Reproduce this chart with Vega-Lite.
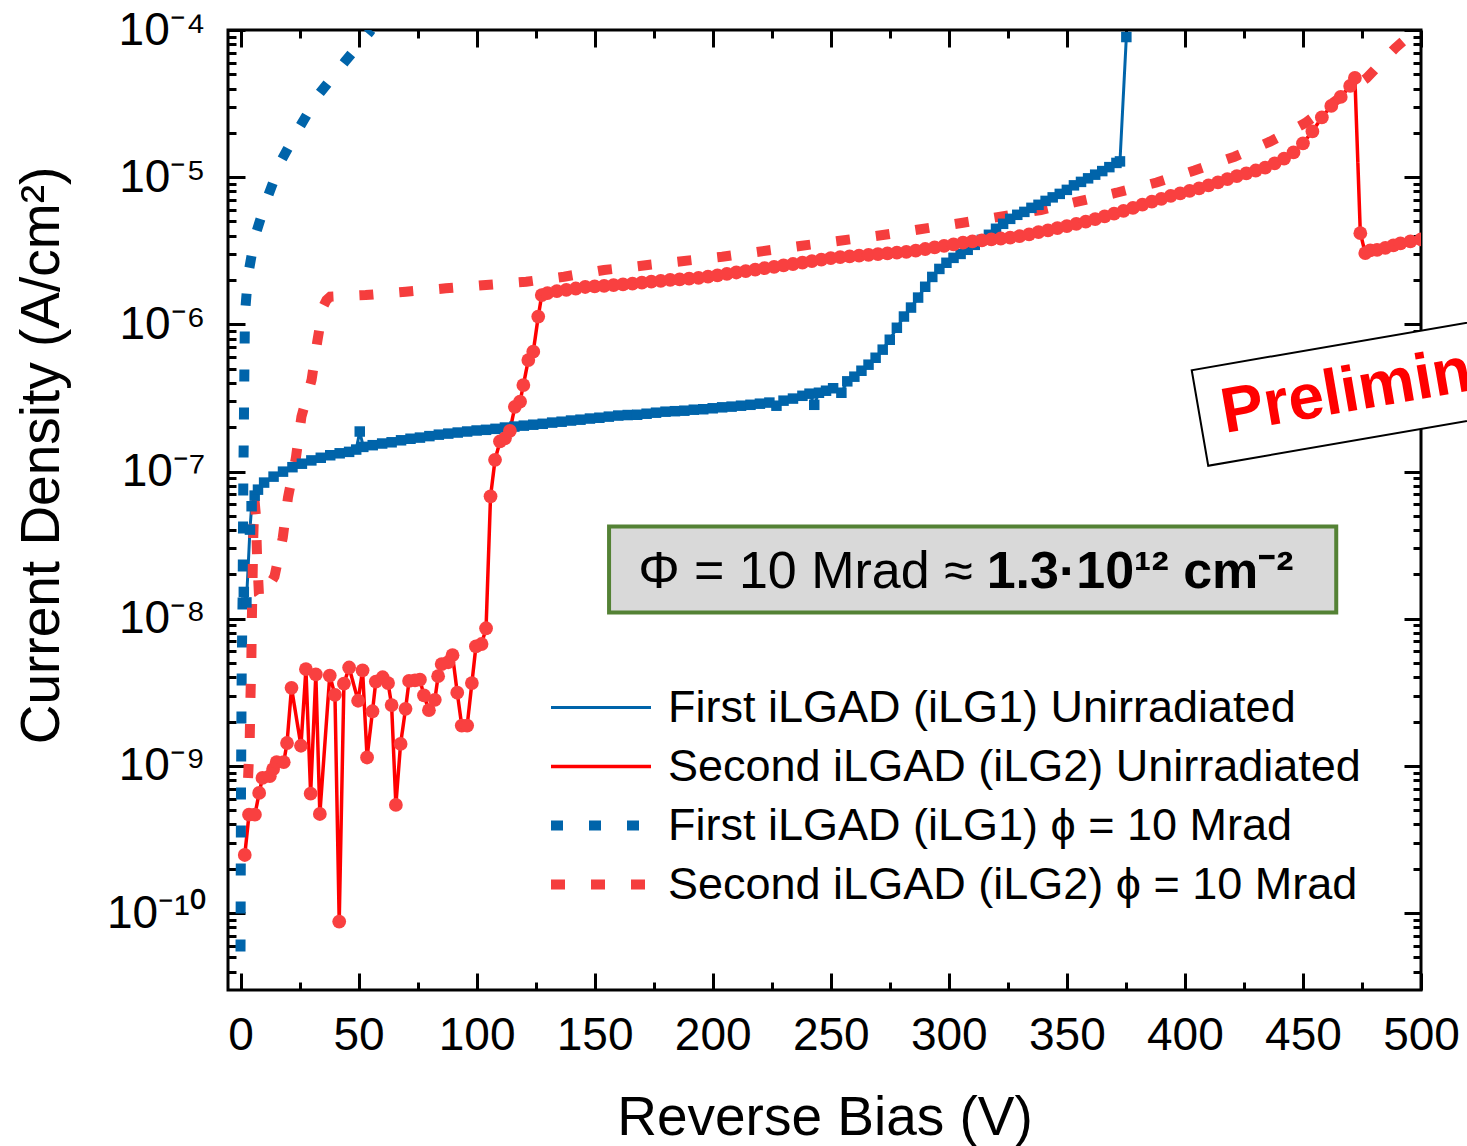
{
  "$schema": "https://vega.github.io/schema/vega-lite/v6.json",
  "width": 1193,
  "height": 960,
  "autosize": {"type": "none"},
  "padding": {"left": 228, "top": 30, "right": 46, "bottom": 156},
  "background": "white",
  "config": {
    "view": {"stroke": "black", "strokeWidth": 3},
    "font": "Liberation Sans",
    "axis": {"domain": false, "grid": false, "tickColor": "black", "labelColor": "black", "titleColor": "black", "labelFont": "Liberation Sans", "titleFont": "Liberation Sans", "titleFontWeight": "normal"}
  },
  "datasets": {
    "curves": [
      {"s":"1U","V":1.4,"J":1.52e-8},{"s":"1U","V":2.5,"J":1.29e-8},{"s":"1U","V":4.0,"J":4.03e-8},{"s":"1U","V":4.7,"J":5.81e-8},{"s":"1U","V":6,"J":6.86e-8},{"s":"1U","V":7.4,"J":7.53e-8},{"s":"1U","V":10,"J":8.41e-8},{"s":"1U","V":14,"J":9.23e-8},{"s":"1U","V":18,"J":9.98e-8},{"s":"1U","V":22,"J":1.07e-7},{"s":"1U","V":26,"J":1.13e-7},{"s":"1U","V":30,"J":1.19e-7},{"s":"1U","V":34,"J":1.24e-7},{"s":"1U","V":38,"J":1.29e-7},{"s":"1U","V":42,"J":1.33e-7},{"s":"1U","V":46,"J":1.36e-7},{"s":"1U","V":49,"J":1.41e-7},{"s":"1U","V":50.5,"J":1.87e-7},{"s":"1U","V":52,"J":1.47e-7},{"s":"1U","V":56,"J":1.51e-7},{"s":"1U","V":60,"J":1.55e-7},{"s":"1U","V":64,"J":1.58e-7},{"s":"1U","V":68,"J":1.63e-7},{"s":"1U","V":72,"J":1.67e-7},{"s":"1U","V":76,"J":1.70e-7},{"s":"1U","V":80,"J":1.74e-7},{"s":"1U","V":84,"J":1.78e-7},{"s":"1U","V":88,"J":1.81e-7},{"s":"1U","V":92,"J":1.84e-7},{"s":"1U","V":96,"J":1.87e-7},{"s":"1U","V":100,"J":1.90e-7},{"s":"1U","V":104,"J":1.92e-7},{"s":"1U","V":108,"J":1.95e-7},{"s":"1U","V":112,"J":1.99e-7},{"s":"1U","V":116,"J":2.02e-7},{"s":"1U","V":120,"J":2.05e-7},{"s":"1U","V":124,"J":2.08e-7},{"s":"1U","V":128,"J":2.11e-7},{"s":"1U","V":132,"J":2.15e-7},{"s":"1U","V":136,"J":2.18e-7},{"s":"1U","V":140,"J":2.22e-7},{"s":"1U","V":144,"J":2.25e-7},{"s":"1U","V":148,"J":2.29e-7},{"s":"1U","V":152,"J":2.32e-7},{"s":"1U","V":156,"J":2.36e-7},{"s":"1U","V":160,"J":2.40e-7},{"s":"1U","V":164,"J":2.42e-7},{"s":"1U","V":168,"J":2.43e-7},{"s":"1U","V":172,"J":2.47e-7},{"s":"1U","V":176,"J":2.51e-7},{"s":"1U","V":180,"J":2.55e-7},{"s":"1U","V":184,"J":2.57e-7},{"s":"1U","V":188,"J":2.59e-7},{"s":"1U","V":192,"J":2.63e-7},{"s":"1U","V":196,"J":2.65e-7},{"s":"1U","V":200,"J":2.69e-7},{"s":"1U","V":204,"J":2.73e-7},{"s":"1U","V":208,"J":2.76e-7},{"s":"1U","V":212,"J":2.80e-7},{"s":"1U","V":216,"J":2.84e-7},{"s":"1U","V":220,"J":2.89e-7},{"s":"1U","V":224,"J":2.94e-7},{"s":"1U","V":227,"J":2.80e-7},{"s":"1U","V":230,"J":3.03e-7},{"s":"1U","V":234,"J":3.13e-7},{"s":"1U","V":238,"J":3.27e-7},{"s":"1U","V":241,"J":3.38e-7},{"s":"1U","V":243,"J":2.84e-7},{"s":"1U","V":245,"J":3.43e-7},{"s":"1U","V":248,"J":3.54e-7},{"s":"1U","V":251,"J":3.68e-7},{"s":"1U","V":254.5,"J":3.43e-7},{"s":"1U","V":257,"J":4.10e-7},{"s":"1U","V":260,"J":4.41e-7},{"s":"1U","V":263,"J":4.84e-7},{"s":"1U","V":266,"J":5.32e-7},{"s":"1U","V":269,"J":5.93e-7},{"s":"1U","V":272,"J":6.73e-7},{"s":"1U","V":275,"J":7.86e-7},{"s":"1U","V":278,"J":9.48e-7},{"s":"1U","V":281,"J":1.13e-6},{"s":"1U","V":284,"J":1.30e-6},{"s":"1U","V":287,"J":1.52e-6},{"s":"1U","V":290,"J":1.80e-6},{"s":"1U","V":293,"J":2.10e-6},{"s":"1U","V":296,"J":2.38e-6},{"s":"1U","V":299,"J":2.62e-6},{"s":"1U","V":302,"J":2.83e-6},{"s":"1U","V":305,"J":3.01e-6},{"s":"1U","V":308,"J":3.21e-6},{"s":"1U","V":311,"J":3.47e-6},{"s":"1U","V":314,"J":3.75e-6},{"s":"1U","V":317,"J":4.06e-6},{"s":"1U","V":320,"J":4.46e-6},{"s":"1U","V":323,"J":4.82e-6},{"s":"1U","V":326,"J":5.21e-6},{"s":"1U","V":329,"J":5.55e-6},{"s":"1U","V":332,"J":5.81e-6},{"s":"1U","V":335,"J":6.19e-6},{"s":"1U","V":338,"J":6.49e-6},{"s":"1U","V":341,"J":6.90e-6},{"s":"1U","V":344,"J":7.29e-6},{"s":"1U","V":347,"J":7.70e-6},{"s":"1U","V":350,"J":8.20e-6},{"s":"1U","V":353,"J":8.80e-6},{"s":"1U","V":356,"J":9.29e-6},{"s":"1U","V":359,"J":9.82e-6},{"s":"1U","V":362,"J":1.04e-5},{"s":"1U","V":365,"J":1.10e-5},{"s":"1U","V":368,"J":1.17e-5},{"s":"1U","V":371,"J":1.25e-5},{"s":"1U","V":372.5,"J":1.28e-5},{"s":"1U","V":375.2,"J":8.96e-5},
      {"s":"2U","V":1.8,"J":2.48e-10},{"s":"2U","V":3.6,"J":4.66e-10},{"s":"2U","V":6.1,"J":4.66e-10},{"s":"2U","V":7.9,"J":6.55e-10},{"s":"2U","V":9.3,"J":8.28e-10},{"s":"2U","V":12.4,"J":8.51e-10},{"s":"2U","V":13.8,"J":9.51e-10},{"s":"2U","V":15.3,"J":1.06e-9},{"s":"2U","V":18.3,"J":1.06e-9},{"s":"2U","V":19.7,"J":1.43e-9},{"s":"2U","V":21.6,"J":3.39e-9},{"s":"2U","V":25.6,"J":1.37e-9},{"s":"2U","V":27.7,"J":4.54e-9},{"s":"2U","V":29.7,"J":6.47e-10},{"s":"2U","V":31.9,"J":4.18e-9},{"s":"2U","V":33.6,"J":4.71e-10},{"s":"2U","V":37.8,"J":4.11e-9},{"s":"2U","V":40.0,"J":3.04e-9},{"s":"2U","V":41.8,"J":8.75e-11},{"s":"2U","V":43.8,"J":3.62e-9},{"s":"2U","V":46.0,"J":4.66e-9},{"s":"2U","V":49.8,"J":2.77e-9},{"s":"2U","V":51.7,"J":4.46e-9},{"s":"2U","V":53.6,"J":1.14e-9},{"s":"2U","V":55.9,"J":2.35e-9},{"s":"2U","V":57.3,"J":3.74e-9},{"s":"2U","V":60.2,"J":4.00e-9},{"s":"2U","V":62.5,"J":3.65e-9},{"s":"2U","V":64.0,"J":2.59e-9},{"s":"2U","V":65.8,"J":5.43e-10},{"s":"2U","V":67.8,"J":1.41e-9},{"s":"2U","V":69.9,"J":2.44e-9},{"s":"2U","V":71.4,"J":3.78e-9},{"s":"2U","V":73.9,"J":3.81e-9},{"s":"2U","V":76.0,"J":3.85e-9},{"s":"2U","V":77.7,"J":3.01e-9},{"s":"2U","V":79.8,"J":2.39e-9},{"s":"2U","V":82.3,"J":2.81e-9},{"s":"2U","V":83.7,"J":4.07e-9},{"s":"2U","V":85.2,"J":4.92e-9},{"s":"2U","V":88.0,"J":5.06e-9},{"s":"2U","V":89.8,"J":5.65e-9},{"s":"2U","V":91.8,"J":3.14e-9},{"s":"2U","V":93.7,"J":1.88e-9},{"s":"2U","V":96.0,"J":1.88e-9},{"s":"2U","V":98.0,"J":3.65e-9},{"s":"2U","V":99.7,"J":6.48e-9},{"s":"2U","V":102.1,"J":6.73e-9},{"s":"2U","V":104.0,"J":8.61e-9},{"s":"2U","V":105.9,"J":6.78e-8},{"s":"2U","V":107.8,"J":1.20e-7},{"s":"2U","V":109.9,"J":1.60e-7},{"s":"2U","V":112.0,"J":1.68e-7},{"s":"2U","V":114.1,"J":1.89e-7},{"s":"2U","V":116.2,"J":2.75e-7},{"s":"2U","V":118.4,"J":2.98e-7},{"s":"2U","V":119.8,"J":3.87e-7},{"s":"2U","V":121.9,"J":5.72e-7},{"s":"2U","V":124.0,"J":6.52e-7},{"s":"2U","V":126.1,"J":1.13e-6},{"s":"2U","V":127.6,"J":1.58e-6},
      {"s":"2U","V":130,"J":1.631e-6},{"s":"2U","V":134,"J":1.683e-6},{"s":"2U","V":138,"J":1.717e-6},{"s":"2U","V":142,"J":1.752e-6},{"s":"2U","V":146,"J":1.794e-6},{"s":"2U","V":150,"J":1.811e-6},{"s":"2U","V":154,"J":1.828e-6},{"s":"2U","V":158,"J":1.845e-6},{"s":"2U","V":162,"J":1.866e-6},{"s":"2U","V":166,"J":1.892e-6},{"s":"2U","V":170,"J":1.922e-6},{"s":"2U","V":174,"J":1.953e-6},{"s":"2U","V":178,"J":1.977e-6},{"s":"2U","V":182,"J":2.002e-6},{"s":"2U","V":186,"J":2.024e-6},{"s":"2U","V":190,"J":2.046e-6},{"s":"2U","V":194,"J":2.069e-6},{"s":"2U","V":198,"J":2.108e-6},{"s":"2U","V":202,"J":2.154e-6},{"s":"2U","V":206,"J":2.202e-6},{"s":"2U","V":210,"J":2.251e-6},{"s":"2U","V":214,"J":2.301e-6},{"s":"2U","V":218,"J":2.355e-6},{"s":"2U","V":222,"J":2.407e-6},{"s":"2U","V":226,"J":2.460e-6},{"s":"2U","V":230,"J":2.519e-6},{"s":"2U","V":234,"J":2.570e-6},{"s":"2U","V":238,"J":2.631e-6},{"s":"2U","V":242,"J":2.690e-6},{"s":"2U","V":246,"J":2.754e-6},{"s":"2U","V":250,"J":2.814e-6},{"s":"2U","V":254,"J":2.863e-6},{"s":"2U","V":258,"J":2.899e-6},{"s":"2U","V":262,"J":2.931e-6},{"s":"2U","V":266,"J":2.968e-6},{"s":"2U","V":270,"J":3.005e-6},{"s":"2U","V":274,"J":3.038e-6},{"s":"2U","V":278,"J":3.071e-6},{"s":"2U","V":282,"J":3.110e-6},{"s":"2U","V":286,"J":3.174e-6},{"s":"2U","V":290,"J":3.250e-6},{"s":"2U","V":294,"J":3.332e-6},{"s":"2U","V":298,"J":3.416e-6},{"s":"2U","V":302,"J":3.498e-6},{"s":"2U","V":306,"J":3.592e-6},{"s":"2U","V":310,"J":3.666e-6},{"s":"2U","V":314,"J":3.723e-6},{"s":"2U","V":318,"J":3.782e-6},{"s":"2U","V":322,"J":3.830e-6},{"s":"2U","V":326,"J":3.884e-6},{"s":"2U","V":330,"J":3.970e-6},{"s":"2U","V":334,"J":4.090e-6},{"s":"2U","V":338,"J":4.233e-6},{"s":"2U","V":342,"J":4.354e-6},{"s":"2U","V":346,"J":4.499e-6},{"s":"2U","V":350,"J":4.648e-6},{"s":"2U","V":354,"J":4.819e-6},{"s":"2U","V":358,"J":4.987e-6},{"s":"2U","V":362,"J":5.187e-6},{"s":"2U","V":366,"J":5.410e-6},{"s":"2U","V":370,"J":5.651e-6},{"s":"2U","V":374,"J":5.903e-6},{"s":"2U","V":378,"J":6.177e-6},{"s":"2U","V":382,"J":6.516e-6},{"s":"2U","V":386,"J":6.818e-6},{"s":"2U","V":390,"J":7.123e-6},{"s":"2U","V":394,"J":7.464e-6},{"s":"2U","V":398,"J":7.762e-6},{"s":"2U","V":402,"J":8.072e-6},{"s":"2U","V":406,"J":8.395e-6},{"s":"2U","V":410,"J":8.799e-6},{"s":"2U","V":414,"J":9.220e-6},{"s":"2U","V":418,"J":9.692e-6},{"s":"2U","V":422,"J":1.017e-5},{"s":"2U","V":426,"J":1.063e-5},{"s":"2U","V":430,"J":1.110e-5},{"s":"2U","V":434,"J":1.160e-5},{"s":"2U","V":438,"J":1.241e-5},{"s":"2U","V":442,"J":1.338e-5},{"s":"2U","V":446,"J":1.474e-5},{"s":"2U","V":450,"J":1.697e-5},{"s":"2U","V":454,"J":2.046e-5},{"s":"2U","V":458,"J":2.547e-5},{"s":"2U","V":462,"J":3.048e-5},{"s":"2U","V":466,"J":3.507e-5},{"s":"2U","V":470,"J":4.167e-5},{"s":"2U","V":472,"J":4.721e-5},{"s":"2U","V":474.3,"J":4.167e-6},{"s":"2U","V":476.4,"J":3.048e-6},{"s":"2U","V":478.5,"J":3.184e-6},{"s":"2U","V":481.4,"J":3.208e-6},{"s":"2U","V":484.9,"J":3.311e-6},{"s":"2U","V":488.3,"J":3.443e-6},{"s":"2U","V":491.3,"J":3.555e-6},{"s":"2U","V":495.5,"J":3.666e-6},{"s":"2U","V":500,"J":3.782e-6},
      {"s":"1I","V":0.0,"J":5.48e-11},{"s":"1I","V":0.05,"J":1.00e-10},{"s":"1I","V":0.1,"J":1.88e-10},{"s":"1I","V":0.15,"J":3.54e-10},{"s":"1I","V":0.2,"J":6.47e-10},{"s":"1I","V":0.3,"J":1.22e-9},{"s":"1I","V":0.4,"J":2.29e-9},{"s":"1I","V":0.5,"J":4.30e-9},{"s":"1I","V":0.7,"J":8.07e-9},{"s":"1I","V":0.9,"J":1.47e-8},{"s":"1I","V":1.0,"J":2.77e-8},{"s":"1I","V":1.1,"J":5.21e-8},{"s":"1I","V":1.2,"J":9.51e-8},{"s":"1I","V":1.4,"J":1.82e-7},{"s":"1I","V":1.55,"J":3.49e-7},{"s":"1I","V":1.7,"J":6.35e-7},{"s":"1I","V":1.9,"J":1.19e-6},{"s":"1I","V":3.2,"J":2.16e-6},{"s":"1I","V":6.1,"J":3.94e-6},{"s":"1I","V":11,"J":7.00e-6},{"s":"1I","V":17.4,"J":1.31e-5},{"s":"1I","V":25.1,"J":2.20e-5},{"s":"1I","V":33.6,"J":3.73e-5},{"s":"1I","V":44.2,"J":6.09e-5},{"s":"1I","V":54.8,"J":9.74e-5},{"s":"1I","V":55.3,"J":1.0e-4},
      {"s":"2I","V":3.2,"J":8.28e-10},{"s":"2I","V":3.9,"J":1.51e-9},{"s":"2I","V":4.2,"J":2.85e-9},{"s":"2I","V":4.6,"J":5.35e-9},{"s":"2I","V":4.8,"J":9.77e-9},{"s":"2I","V":5.1,"J":1.83e-8},{"s":"2I","V":5.4,"J":3.55e-8},{"s":"2I","V":5.9,"J":6.49e-8},{"s":"2I","V":6.5,"J":5.06e-8},{"s":"2I","V":7.0,"J":2.69e-8},{"s":"2I","V":7.8,"J":1.47e-8},{"s":"2I","V":9,"J":1.38e-8},{"s":"2I","V":14.4,"J":1.94e-8},{"s":"2I","V":17.9,"J":3.55e-8},{"s":"2I","V":20.1,"J":6.66e-8},{"s":"2I","V":23.4,"J":1.22e-7},{"s":"2I","V":25.8,"J":2.36e-7},{"s":"2I","V":30.1,"J":4.19e-7},{"s":"2I","V":32.5,"J":7.62e-7},{"s":"2I","V":35.0,"J":1.32e-6},{"s":"2I","V":36.4,"J":1.46e-6},{"s":"2I","V":38,"J":1.54e-6},{"s":"2I","V":53,"J":1.582e-6},{"s":"2I","V":70,"J":1.666e-6},{"s":"2I","V":87,"J":1.757e-6},{"s":"2I","V":104,"J":1.851e-6},{"s":"2I","V":121,"J":1.948e-6},{"s":"2I","V":137,"J":2.107e-6},{"s":"2I","V":154,"J":2.340e-6},{"s":"2I","V":180,"J":2.611e-6},{"s":"2I","V":204,"J":2.881e-6},{"s":"2I","V":237,"J":3.406e-6},{"s":"2I","V":272,"J":4.046e-6},{"s":"2I","V":306,"J":4.904e-6},{"s":"2I","V":339,"J":5.982e-6},{"s":"2I","V":371,"J":7.84e-6},{"s":"2I","V":388,"J":9.20e-6},{"s":"2I","V":404,"J":1.110e-5},{"s":"2I","V":421,"J":1.377e-5},{"s":"2I","V":436,"J":1.742e-5},{"s":"2I","V":451,"J":2.334e-5},{"s":"2I","V":464,"J":3.319e-5},{"s":"2I","V":477,"J":4.718e-5},{"s":"2I","V":489,"J":7.51e-5},{"s":"2I","V":494,"J":8.82e-5}
    ],
    "fluence": [{"x1": 156.1, "x2": 464.1, "y1": 4.23e-8, "y2": 1.10e-8, "xt": 313.5, "yt": 2.09e-8, "t1": "Φ = 10 Mrad ≈", "t2": "1.3·10¹² cm⁻²"}],
    "prelim": [{"V": 488.4, "J": 3.9e-7, "t": "Preliminary"}]
  },
  "layer": [
    {
      "data": {"name": "curves"},
      "mark": {"type": "line", "clip": true},
      "encoding": {
        "x": {"field": "V", "type": "quantitative", "scale": {"domain": [-5.3, 500], "nice": false, "zero": false},
          "axis": {"orient": "bottom", "values": [0,25,50,75,100,125,150,175,200,225,250,275,300,325,350,375,400,425,450,475,500],
            "labelExpr": "datum.value % 50 == 0 ? datum.label : ''",
            "tickSize": {"condition": {"test": "datum.value % 50 == 0", "value": -17}, "value": -8},
            "tickWidth": 3, "labelFontSize": 46, "labelPadding": 40, "labelFlush": false, "labelOverlap": false,
            "title": "Reverse Bias (V)", "titleFontSize": 55, "titlePadding": 24}},
        "y": {"field": "J", "type": "quantitative", "scale": {"type": "log", "domain": [3e-11, 1e-4], "nice": false},
          "axis": {"orient": "left", "values": [4e-11,5e-11,6e-11,7e-11,8e-11,9e-11,1e-10,2e-10,3e-10,4e-10,5e-10,6e-10,7e-10,8e-10,9e-10,1e-9,2e-9,3e-9,4e-9,5e-9,6e-9,7e-9,8e-9,9e-9,1e-8,2e-8,3e-8,4e-8,5e-8,6e-8,7e-8,8e-8,9e-8,1e-7,2e-7,3e-7,4e-7,5e-7,6e-7,7e-7,8e-7,9e-7,1e-6,2e-6,3e-6,4e-6,5e-6,6e-6,7e-6,8e-6,9e-6,1e-5,2e-5,3e-5,4e-5,5e-5,6e-5,7e-5,8e-5,9e-5,1e-4],
            "labelExpr": "abs(log(datum.value)/LN10 - round(log(datum.value)/LN10)) < 0.01 ? ['10⁻¹⁰','10⁻⁹','10⁻⁸','10⁻⁷','10⁻⁶','10⁻⁵','10⁻⁴'][round(log(datum.value)/LN10)+10] : ''",
            "tickSize": {"condition": {"test": "abs(log(datum.value)/LN10 - round(log(datum.value)/LN10)) < 0.01", "value": -17}, "value": -8},
            "tickWidth": 3, "labelFontSize": 46, "labelPadding": 40, "labelFlush": false, "labelOverlap": false,
            "title": "Current Density (A/cm²)", "titleFontSize": 55, "titlePadding": 36, "titleY": 425}},
        "color": {"field": "s", "type": "nominal",
          "scale": {"domain": ["1U","2U","1I","2I"], "range": ["#0064aa", "#ff0000", "#0064aa", "#f53d3d"]},
          "legend": {"orient": "none", "legendX": 318, "legendY": 648, "title": null, "labelFontSize": 45, "labelFont": "Liberation Sans", "labelColor": "black",
            "symbolType": "stroke", "symbolSize": 10000, "labelOffset": 12, "rowPadding": 0, "clipHeight": 59, "labelLimit": 1200, "padding": 0,
            "labelExpr": "{'1U':'First iLGAD (iLG1) Unirradiated','2U':'Second iLGAD (iLG2) Unirradiated','1I':'First iLGAD (iLG1) ϕ = 10 Mrad','2I':'Second iLGAD (iLG2) ϕ = 10 Mrad'}[datum.value]"}},
        "strokeDash": {"field": "s", "type": "nominal", "scale": {"domain": ["1U","2U","1I","2I"], "range": [[1,0],[1,0],[12,26],[14,26]]}, "legend": {"title": null}},
        "strokeWidth": {"field": "s", "type": "nominal", "scale": {"type": "ordinal", "domain": ["1U","2U","1I","2I"], "range": [3, 3.5, 10, 10]}, "legend": {"title": null}}
      }
    },
    {
      "data": {"name": "curves"},
      "transform": [{"filter": "datum.s == '1U'"}],
      "mark": {"type": "point", "shape": "square", "filled": true, "size": 110, "color": "#0064aa", "opacity": 1, "clip": true},
      "encoding": {
        "x": {"field": "V", "type": "quantitative", "scale": {"domain": [-5.3, 500], "nice": false, "zero": false},
          "axis": {"orient": "top", "values": [0,25,50,75,100,125,150,175,200,225,250,275,300,325,350,375,400,425,450,475,500], "labels": false, "title": null,
            "tickSize": {"condition": {"test": "datum.value % 50 == 0", "value": -17}, "value": -8}, "tickWidth": 3}},
        "y": {"field": "J", "type": "quantitative", "scale": {"type": "log", "domain": [3e-11, 1e-4], "nice": false},
          "axis": {"orient": "right", "values": [4e-11,5e-11,6e-11,7e-11,8e-11,9e-11,1e-10,2e-10,3e-10,4e-10,5e-10,6e-10,7e-10,8e-10,9e-10,1e-9,2e-9,3e-9,4e-9,5e-9,6e-9,7e-9,8e-9,9e-9,1e-8,2e-8,3e-8,4e-8,5e-8,6e-8,7e-8,8e-8,9e-8,1e-7,2e-7,3e-7,4e-7,5e-7,6e-7,7e-7,8e-7,9e-7,1e-6,2e-6,3e-6,4e-6,5e-6,6e-6,7e-6,8e-6,9e-6,1e-5,2e-5,3e-5,4e-5,5e-5,6e-5,7e-5,8e-5,9e-5,1e-4], "labels": false, "title": null,
            "tickSize": {"condition": {"test": "abs(log(datum.value)/LN10 - round(log(datum.value)/LN10)) < 0.01", "value": -17}, "value": -8}, "tickWidth": 3}}
      }
    },
    {
      "data": {"name": "curves"},
      "transform": [{"filter": "datum.s == '2U'"}],
      "mark": {"type": "point", "shape": "circle", "filled": true, "size": 190, "color": "#f94040", "opacity": 1, "clip": true},
      "encoding": {
        "x": {"field": "V", "type": "quantitative", "scale": {"domain": [-5.3, 500], "nice": false, "zero": false}, "axis": null},
        "y": {"field": "J", "type": "quantitative", "scale": {"type": "log", "domain": [3e-11, 1e-4], "nice": false}, "axis": null}
      }
    },
    {
      "data": {"name": "fluence"},
      "mark": {"type": "rect", "fill": "#d9d9d9", "stroke": "#548235", "strokeWidth": 4},
      "encoding": {
        "x": {"field": "x1", "type": "quantitative", "scale": {"domain": [-5.3, 500], "nice": false, "zero": false}, "axis": null},
        "x2": {"field": "x2"},
        "y": {"field": "y1", "type": "quantitative", "scale": {"type": "log", "domain": [3e-11, 1e-4], "nice": false}, "axis": null},
        "y2": {"field": "y2"}
      }
    },
    {
      "data": {"name": "fluence"},
      "mark": {"type": "text", "align": "right", "baseline": "middle", "dx": -8, "fontSize": 52, "font": "Liberation Sans", "color": "black"},
      "encoding": {
        "x": {"field": "xt", "type": "quantitative", "scale": {"domain": [-5.3, 500], "nice": false, "zero": false}, "axis": null},
        "y": {"field": "yt", "type": "quantitative", "scale": {"type": "log", "domain": [3e-11, 1e-4], "nice": false}, "axis": null},
        "text": {"field": "t1"}
      }
    },
    {
      "data": {"name": "fluence"},
      "mark": {"type": "text", "align": "left", "baseline": "middle", "dx": 6, "fontSize": 52, "fontWeight": "bold", "font": "Liberation Sans", "color": "black"},
      "encoding": {
        "x": {"field": "xt", "type": "quantitative", "scale": {"domain": [-5.3, 500], "nice": false, "zero": false}, "axis": null},
        "y": {"field": "yt", "type": "quantitative", "scale": {"type": "log", "domain": [3e-11, 1e-4], "nice": false}, "axis": null},
        "text": {"field": "t2"}
      }
    },
    {
      "data": {"name": "prelim"},
      "mark": {"type": "point", "shape": "M-1,-0.2468L1,-0.2468L1,0.2468L-1,0.2468Z", "size": 154449, "angle": -9.8, "filled": true, "fill": "white", "stroke": "black", "strokeWidth": 2, "opacity": 1},
      "encoding": {
        "x": {"field": "V", "type": "quantitative", "scale": {"domain": [-5.3, 500], "nice": false, "zero": false}, "axis": null},
        "y": {"field": "J", "type": "quantitative", "scale": {"type": "log", "domain": [3e-11, 1e-4], "nice": false}, "axis": null}
      }
    },
    {
      "data": {"name": "prelim"},
      "mark": {"type": "text", "align": "center", "baseline": "middle", "angle": -9.8, "fontSize": 64, "fontWeight": "bold", "font": "Liberation Sans", "color": "#ff0000"},
      "encoding": {
        "x": {"field": "V", "type": "quantitative", "scale": {"domain": [-5.3, 500], "nice": false, "zero": false}, "axis": null},
        "y": {"field": "J", "type": "quantitative", "scale": {"type": "log", "domain": [3e-11, 1e-4], "nice": false}, "axis": null},
        "text": {"field": "t"}
      }
    }
  ],
  "resolve": {"axis": {"x": "independent", "y": "independent"}}
}
